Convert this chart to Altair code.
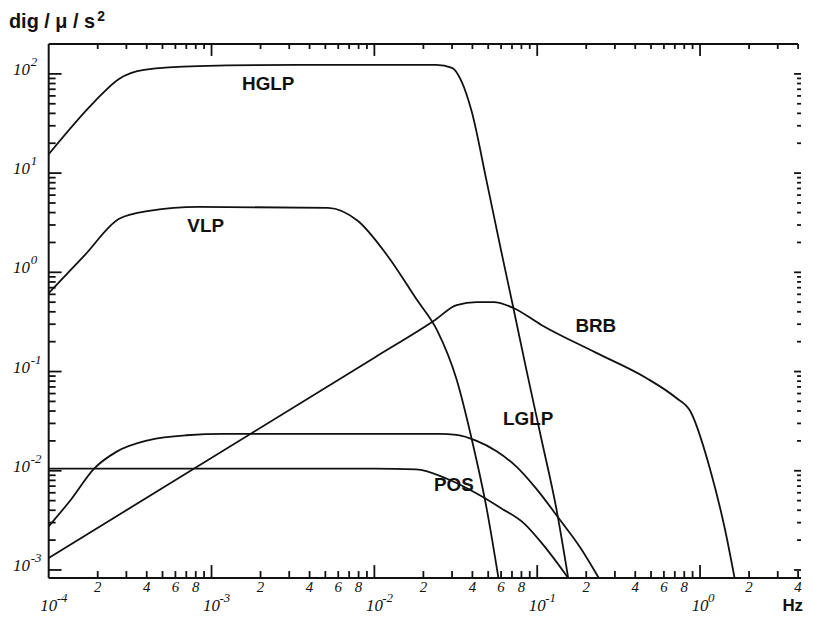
import math
import altair as alt
import pandas as pd

# ---------------- data ----------------
hglp_f = [1e-4, 1.9e-4, 2.7e-4, 3.85e-4, 8.3e-4, 3.4e-3, 0.024, 0.030, 0.0344, 0.0396, 0.0489, 0.060, 0.0714, 0.0857, 0.106, 0.131, 0.155]
hglp_a = [15.5, 52, 89, 110, 120, 123, 123, 115, 83, 41.7, 8.3, 1.66, 0.437, 0.105, 0.021, 4.17e-3, 8.3e-4]

vlp_f = [1e-4, 1.66e-4, 2.71e-4, 4.13e-4, 8.3e-4, 5.2e-3, 7.9e-3, 0.012, 0.0183, 0.0242, 0.032, 0.0396, 0.0489, 0.0578]
vlp_a = [0.617, 1.48, 3.47, 4.17, 4.57, 4.47, 3.31, 1.48, 0.525, 0.263, 0.083, 0.0209, 4.17e-3, 8.3e-4]

brb_f = [1e-4, 0.01, 0.0236, 0.032, 0.0425, 0.054, 0.0714, 0.106, 0.229, 0.462, 0.705, 0.87, 1.15, 1.42, 1.63]
brb_a = [1.32e-3, 0.138, 0.331, 0.468, 0.50, 0.50, 0.437, 0.295, 0.155, 0.087, 0.055, 0.040, 0.0105, 0.0026, 8.3e-4]

lglp_f = [1e-4, 1.38e-4, 1.9e-4, 2.6e-4, 4.13e-4, 7e-4, 1.2e-3, 0.025, 0.032, 0.0425, 0.056, 0.0745, 0.0986, 0.136, 0.185, 0.239]
lglp_a = [2.75e-3, 5.2e-3, 0.0105, 0.0155, 0.0204, 0.0228, 0.0235, 0.0235, 0.023, 0.020, 0.0158, 0.011, 6.6e-3, 3.3e-3, 1.66e-3, 8.3e-4]

pos_f = [1e-4, 1e-3, 0.01, 0.018, 0.0279, 0.0425, 0.060, 0.082, 0.113, 0.155]
pos_a = [0.0105, 0.0105, 0.0105, 0.0103, 0.0083, 0.0059, 0.0042, 0.0030, 0.00166, 8.3e-4]

label_names = ["HGLP", "VLP", "BRB", "LGLP", "POS"]
label_f = [2.23e-3, 9.2e-4, 0.229, 0.088, 0.0308]
label_a = [79, 2.95, 0.29, 0.033, 0.0071]

x_decades = [1e-4, 1e-3, 1e-2, 1e-1, 1e0]
x_decade_exp = ["-4", "-3", "-2", "-1", "0"]
y_decades = [1e-3, 1e-2, 1e-1, 1e0, 1e1, 1e2]
y_decade_exp = ["-3", "-2", "-1", "0", "1", "2"]
minor_digits = [2, 3, 4, 5, 6, 7, 8, 9]
x_label_digits = [2, 4, 6, 8]

XMIN, XMAX = 1e-4, 4.17
YMIN, YMAX = 8.3e-4, 200.0
W, H = 758, 538

# pixels per decade of the two log scales (used only to size the tick marks)
PX_X = W / math.log10(XMAX / XMIN)
PX_Y = H / math.log10(YMAX / YMIN)

# ---------------- tables ----------------
rows = []
for name, fs, As in [("HGLP", hglp_f, hglp_a), ("VLP", vlp_f, vlp_a), ("BRB", brb_f, brb_a),
                     ("LGLP", lglp_f, lglp_a), ("POS", pos_f, pos_a)]:
    for f, a in zip(fs, As):
        rows.append({"series": name, "f": f, "a": a})
curves = pd.DataFrame(rows)
labels = pd.DataFrame({"name": label_names, "f": label_f, "a": label_a})

xmaj = pd.DataFrame({"v": x_decades, "e": x_decade_exp, "t": ["10"] * len(x_decades)})
ymaj = pd.DataFrame({"v": y_decades, "e": y_decade_exp, "t": ["10"] * len(y_decades)})
x_minor_vals = [d * k for d in x_decades for k in minor_digits if d * k <= XMAX]
y_minor_vals = [d * k for d in y_decades for k in minor_digits if YMIN <= d * k < YMAX * 0.99]
xlab = pd.DataFrame({"v": [d * k for d in x_decades for k in x_label_digits if d * k <= XMAX],
                     "t": [str(k) for d in x_decades for k in x_label_digits if d * k <= XMAX]})
one = pd.DataFrame({"k": [0]})

# tick segments: (x0, x1, y0, y1) in data units, lengths given in pixels
segs = []


def ylen(px):
    return 10 ** (px / PX_Y)


def xlen(px):
    return 10 ** (px / PX_X)


for v in x_decades[1:]:
    segs.append((v, v, YMIN, YMIN * ylen(13)))          # bottom major
    segs.append((v, v, YMAX, YMAX / ylen(12)))          # top major
for v in x_minor_vals:
    segs.append((v, v, YMIN, YMIN * ylen(7)))           # bottom minor
    segs.append((v, v, YMAX, YMAX / ylen(5)))           # top minor
for v in y_decades:
    segs.append((XMIN, XMIN * xlen(13), v, v))          # left major
    segs.append((XMAX, XMAX / xlen(7), v, v))           # right major
for v in y_minor_vals:
    segs.append((XMIN, XMIN * xlen(7), v, v))           # left minor
    segs.append((XMAX, XMAX / xlen(4), v, v))           # right minor
ticks = pd.DataFrame(segs, columns=["x0", "x1", "y0", "y1"])

xs = alt.Scale(type="log", domain=[XMIN, XMAX], nice=False)
ys = alt.Scale(type="log", domain=[YMIN, YMAX], nice=False)


def X(field):
    return alt.X(f"{field}:Q", scale=xs, axis=None)


def Y(field):
    return alt.Y(f"{field}:Q", scale=ys, axis=None)


INK = "#111111"
TICKFONT = "Liberation Serif"

lines = alt.Chart(curves).mark_line(color=INK, strokeWidth=1.8, interpolate="monotone", clip=True).encode(
    x=X("f"), y=Y("a"), detail="series:N")

curve_labels = alt.Chart(labels).mark_text(font="Liberation Sans", fontWeight="bold", fontSize=19,
                                           color=INK, align="center", baseline="middle").encode(
    x=X("f"), y=Y("a"), text="name:N")

frame_left = alt.Chart(one).mark_rule(color=INK, strokeWidth=2).encode(
    x=alt.value(0), y=alt.value(0), y2=alt.value(H))
frame_bottom = alt.Chart(one).mark_rule(color=INK, strokeWidth=2).encode(
    x=alt.value(0), x2=alt.value(W), y=alt.value(H))
frame_top = alt.Chart(one).mark_rule(color=INK, strokeWidth=2).encode(
    x=alt.value(0), x2=alt.value(W - 3), y=alt.value(0))

tick_marks = alt.Chart(ticks).mark_rule(color=INK, strokeWidth=1.8).encode(
    x=X("x0"), x2=alt.X2("x1"), y=Y("y0"), y2=alt.Y2("y1"))

txt = dict(font=TICKFONT, fontStyle="italic", color=INK)
x_minor_lab = alt.Chart(xlab).mark_text(fontSize=15, align="center", baseline="alphabetic", **txt).encode(
    x=X("v"), y=alt.value(H + 14), text="t:N")
x_dec_base = alt.Chart(xmaj).mark_text(fontSize=17, align="center", baseline="alphabetic", **txt).encode(
    x=X("v"), y=alt.value(H + 33), text="t:N")
x_dec_exp = alt.Chart(xmaj).mark_text(fontSize=13, align="left", baseline="alphabetic", dx=8, **txt).encode(
    x=X("v"), y=alt.value(H + 24), text="e:N")
y_dec_base = alt.Chart(ymaj).mark_text(fontSize=17, align="left", baseline="alphabetic", dy=1, **txt).encode(
    x=alt.value(-36), y=Y("v"), text="t:N")
y_dec_exp = alt.Chart(ymaj).mark_text(fontSize=13, align="left", baseline="alphabetic", dy=-8, **txt).encode(
    x=alt.value(-18), y=Y("v"), text="e:N")

title_main = alt.Chart(one).mark_text(font="Liberation Sans", fontWeight="bold", fontSize=20, color=INK,
                                      align="left", baseline="alphabetic").encode(
    x=alt.value(-40), y=alt.value(-16), text=alt.value("dig / μ / s"))
title_sup = alt.Chart(one).mark_text(font="Liberation Sans", fontWeight="bold", fontSize=14, color=INK,
                                     align="left", baseline="alphabetic").encode(
    x=alt.value(49), y=alt.value(-23), text=alt.value("2"))
hz = alt.Chart(one).mark_text(font="Liberation Sans", fontWeight="bold", fontSize=17, color=INK,
                              align="right", baseline="alphabetic").encode(
    x=alt.value(W + 2), y=alt.value(H + 33), text=alt.value("Hz"))

chart = alt.layer(
    frame_left, frame_bottom, frame_top, tick_marks,
    lines, curve_labels,
    x_minor_lab, x_dec_base, x_dec_exp, y_dec_base, y_dec_exp,
    title_main, title_sup, hz,
).properties(
    width=W, height=H,
    autosize=alt.AutoSizeParams(type="none"),
    padding={"left": 41, "top": 34, "right": 4, "bottom": 37},
    background="white",
).configure_view(stroke=None)

chart.save("out.html", embed_options={"renderer": "svg", "actions": False})
